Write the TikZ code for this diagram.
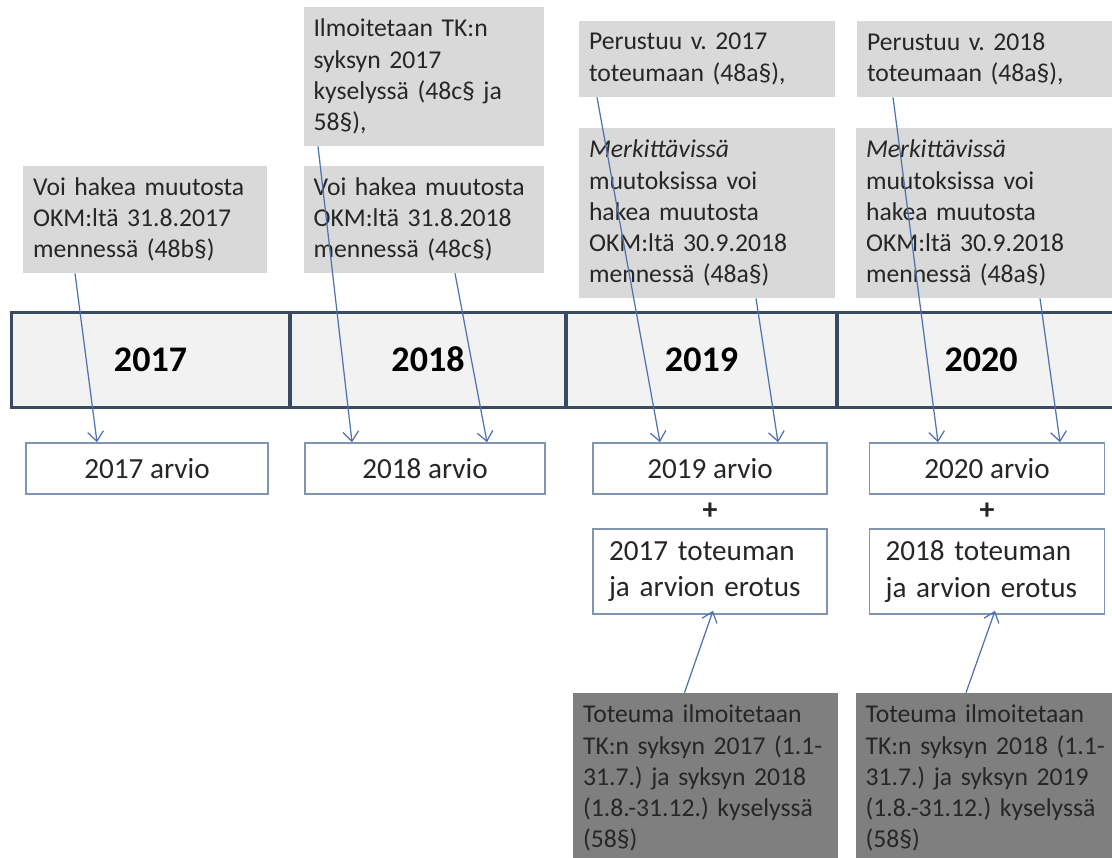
\documentclass[tikz,border=0pt]{standalone}
\usepackage{fontspec}
\setmainfont{Carlito}
\usetikzlibrary{arrows.meta,calc}
\frenchspacing

\definecolor{calloutgray}{HTML}{D9D9D9}
\definecolor{reportgray}{HTML}{7F7F7F}
\definecolor{barfill}{HTML}{F2F2F2}
\definecolor{barline}{HTML}{3B4A63}
\definecolor{boxline}{HTML}{8094B4}
\definecolor{arrowblue}{HTML}{4F72B0}
\definecolor{textdark}{HTML}{262626}

\tikzset{
  callout/.style={fill=calloutgray, text=textdark, inner xsep=0.2cm, inner ysep=0pt,
    align=left, font=\fontsize{14.6pt}{17.7pt}\selectfont},
  report/.style={callout, fill=reportgray},
  yearcell/.style={draw=barline, line width=1.7pt, fill=barfill, inner sep=0pt,
    minimum height=1.92cm, text height=13pt, text depth=0pt, text=black,
    font=\bfseries\fontsize{20.5pt}{24pt}\selectfont},
  sumbox/.style={draw=boxline, line width=0.9pt, fill=white, inner sep=0pt,
    minimum height=1.02cm, text=textdark, font=\fontsize{16.6pt}{20.6pt}\selectfont},
  plus/.style={text=textdark, font=\bfseries\fontsize{17pt}{20pt}\selectfont},
  arr/.style={draw=arrowblue, line width=0.7pt, -{Straight Barb[length=5.5pt,width=9pt]}}
}

\begin{document}
\begin{tikzpicture}[x=0.02cm, y=-0.02cm]
    % Page frame
    \clip (0,0) rectangle (1112,858);
    \fill[white] (0,0) rectangle (1112,858);

    % The time line
    \node[yearcell, minimum width=5.58cm] (y17) at (150.5,360) {2017};
    \node[yearcell, minimum width=5.52cm] (y18) at (428,360) {2018};
    \node[yearcell, minimum width=5.42cm] (y19) at (701.5,360) {2019};
    \node[yearcell, minimum width=5.76cm] (y20) at (981,360) {2020};

    % Notes above the time line
    \node[callout, text width=4.48cm, minimum height=2.14cm] (c17) at (145,219.5)
        {Voi hakea muutosta\\OKM:ltä 31.8.2017\\mennessä (48b§)};
    \node[callout, text width=4.42cm, minimum height=2.78cm] (c18a) at (424,76.5)
        {Ilmoitetaan TK:n\\syksyn 2017\\kyselyssä (48c§ ja\\58§),};
    \node[callout, text width=4.42cm, minimum height=2.14cm] (c18b) at (424,219.5)
        {Voi hakea muutosta\\OKM:ltä 31.8.2018\\mennessä (48c§)};
    \node[callout, text width=4.72cm, minimum height=1.52cm] (c19a) at (707,59)
        {Perustuu v. 2017\\toteumaan (48a§),};
    \node[callout, text width=4.72cm, minimum height=3.4cm] (c19b) at (707,213)
        {\textit{Merkittävissä}\\muutoksissa voi\\hakea muutosta\\OKM:ltä 30.9.2018\\mennessä (48a§)};
    \node[callout, text width=4.72cm, minimum height=1.52cm] (c20a) at (985,59)
        {Perustuu v. 2018\\toteumaan (48a§),};
    \node[callout, text width=4.72cm, minimum height=3.4cm] (c20b) at (984,213)
        {\textit{Merkittävissä}\\muutoksissa voi\\hakea muutosta\\OKM:ltä 30.9.2018\\mennessä (48a§)};

    % Sums below the time line
    \node[sumbox, minimum width=4.84cm] (a17) at (147,468.5) {2017 arvio};
    \node[sumbox, minimum width=4.8cm] (a18) at (425,468.5) {2018 arvio};
    \node[sumbox, minimum width=4.68cm] (a19) at (710,468.5) {2019 arvio};
    \node[sumbox, minimum width=4.7cm] (a20) at (987,468.5) {2020 arvio};
    \node[plus] (p19) at (710,511) {+};
    \node[plus] (p20) at (987,511) {+};
    \node[sumbox, inner xsep=0.32cm, text width=4.04cm, align=left, minimum height=1.7cm] (t19) at (710,571.5)
        {2017 toteuman\\ja arvion erotus};
    \node[sumbox, inner xsep=0.32cm, text width=4.06cm, align=left, minimum height=1.7cm] (t20) at (987,571.5)
        {2018 toteuman\\ja arvion erotus};

    % Reports at the bottom
    \node[report, text width=4.9cm, minimum height=3.4cm] (r19) at (705.5,778)
        {Toteuma ilmoitetaan\\TK:n syksyn 2017 (1.1-\\31.7.) ja syksyn 2018\\(1.8.-31.12.) kyselyssä\\(58§)};
    \node[report, text width=4.9cm, minimum height=3.4cm] (r20) at (988,778)
        {Toteuma ilmoitetaan\\TK:n syksyn 2018 (1.1-\\31.7.) ja syksyn 2019\\(1.8.-31.12.) kyselyssä\\(58§)};

    % Arrows
    \draw[arr] ($(c17.south)+(-70,0)$) -- ($(a17.north)+(-50,0)$);
    \draw[arr] ($(c18a.south)+(-106,0)$) -- ($(a18.north)+(-73,0)$);
    \draw[arr] ($(c18b.south)+(31,0)$) -- ($(a18.north)+(62,0)$);
    \draw[arr] ($(c19a.south)+(-110,0)$) -- ($(a19.north)+(-50,0)$);
    \draw[arr] ($(c19b.south)+(49,0)$) -- ($(a19.north)+(68,0)$);
    \draw[arr] ($(c20a.south)+(-92,0)$) -- ($(a20.north)+(-49,0)$);
    \draw[arr] ($(c20b.south)+(56,0)$) -- ($(a20.north)+(73,0)$);
    \draw[arr] ($(r19.north)+(-21,0)$) -- ($(t19.south)+(3,-4)$);
    \draw[arr] ($(r20.north)+(-22,0)$) -- ($(t20.south)+(8,-4)$);
\end{tikzpicture}
\end{document}
